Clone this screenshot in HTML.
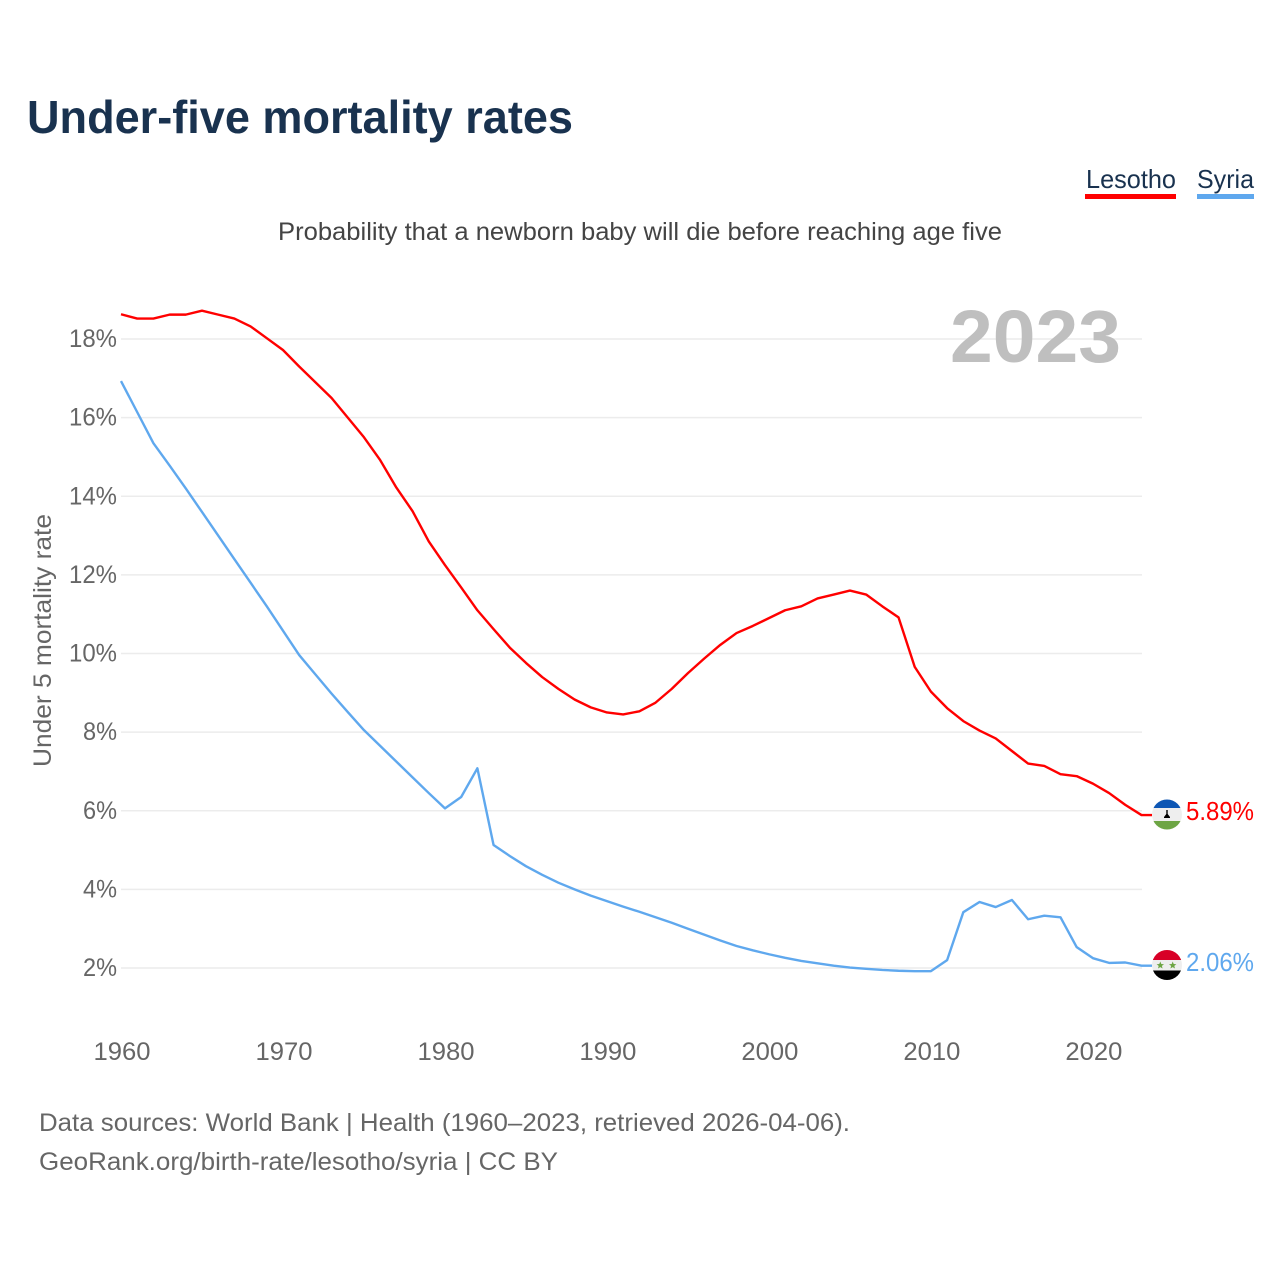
<!DOCTYPE html>
<html lang="en">
<head>
<meta charset="utf-8">
<title>Under-five mortality rates</title>
<style>
html,body{margin:0;padding:0;background:#fff;width:1280px;height:1280px;overflow:hidden}
svg{display:block}
text{font-family:"Liberation Sans",sans-serif}
</style>
</head>
<body>
<svg id="chart" xmlns="http://www.w3.org/2000/svg" width="1280" height="1280" viewBox="0 0 1280 1280">
  <defs>
    <clipPath id="flag-clip-a"><circle cx="1167" cy="814.500" r="15"/></clipPath>
    <clipPath id="flag-clip-b"><circle cx="1167" cy="965" r="15"/></clipPath>
  </defs>
  <text x="27" y="133" font-size="46" font-weight="700" fill="#19324f" textLength="546" lengthAdjust="spacingAndGlyphs">Under-five mortality rates</text>
  <g id="grid"></g>
  <text x="950" y="362" font-size="74" font-weight="700" fill="#bfbfbf" textLength="171" lengthAdjust="spacingAndGlyphs">2023</text>
  <g id="y-ticks"></g>
  <g id="x-ticks"></g>
  <text transform="translate(51,767) rotate(-90)" font-size="25" fill="#666" textLength="253" lengthAdjust="spacingAndGlyphs">Under 5 mortality rate</text>
  <text x="278" y="240" font-size="25" fill="#444" textLength="724" lengthAdjust="spacingAndGlyphs">Probability that a newborn baby will die before reaching age five</text>

  <g>
    <text x="1086" y="188" font-size="26" fill="#19324f" textLength="90" lengthAdjust="spacingAndGlyphs">Lesotho</text>
    <rect x="1085" y="194" width="91" height="5" fill="#ff0000"/>
  </g>
  <g>
    <text x="1197" y="188" font-size="26" fill="#19324f" textLength="57" lengthAdjust="spacingAndGlyphs">Syria</text>
    <rect x="1197" y="194" width="57" height="5" fill="#5fa8ee"/>
  </g>

  <g id="series"></g>

  <g clip-path="url(#flag-clip-a)">
    <rect x="1152" y="799" width="30" height="31" fill="#eeeeee"/>
    <rect x="1152" y="799" width="30" height="9" fill="#0d56b4"/>
    <rect x="1152" y="821" width="30" height="9" fill="#6da544"/>
    <path d="M1166.300 810h1.400v4l2.300 3v1h-6v-1l2.300-3z" fill="#000"/>
  </g>
  <g clip-path="url(#flag-clip-b)">
    <rect x="1152" y="950" width="30" height="30" fill="#eeeeee"/>
    <rect x="1152" y="950" width="30" height="10" fill="#d80027"/>
    <rect x="1152" y="970.500" width="30" height="10" fill="#000"/>
    <polygon points="1160.300,961.500 1161.300,964 1164,964.200 1161.900,965.900 1162.600,968.500 1160.300,967.100 1158,968.500 1158.700,965.900 1156.600,964.200 1159.300,964" fill="#6da544"/>
    <polygon points="1172.700,961.500 1173.700,964 1176.400,964.200 1174.300,965.900 1175,968.500 1172.700,967.100 1170.400,968.500 1171.100,965.900 1169,964.200 1171.700,964" fill="#6da544"/>
  </g>
  <text x="1186" y="820" font-size="25.500" fill="#ff0000" textLength="68" lengthAdjust="spacingAndGlyphs">5.89%</text>
  <text x="1186" y="971" font-size="25.500" fill="#5fa8ee" textLength="68" lengthAdjust="spacingAndGlyphs">2.06%</text>

  <text x="39" y="1131" font-size="25" fill="#666" textLength="811" lengthAdjust="spacingAndGlyphs">Data sources: World Bank | Health (1960–2023, retrieved 2026-04-06).</text>
  <text x="39" y="1170" font-size="25" fill="#666" textLength="519" lengthAdjust="spacingAndGlyphs">GeoRank.org/birth-rate/lesotho/syria | CC BY</text>
</svg>
<script>
const startYear = 1960;
const lesothoValues = [18.63,18.52,18.52,18.62,18.62,18.72,18.62,18.52,18.32,18.02,17.72,17.3,16.9,16.5,16.0,15.5,14.92,14.22,13.62,12.85,12.25,11.68,11.1,10.62,10.15,9.76,9.4,9.1,8.83,8.63,8.5,8.45,8.53,8.75,9.1,9.5,9.87,10.22,10.52,10.7,10.9,11.1,11.2,11.4,11.5,11.6,11.5,11.2,10.92,9.66,9.03,8.61,8.28,8.04,7.84,7.52,7.2,7.14,6.93,6.88,6.69,6.45,6.15,5.89];
const syriaValues = [16.93,16.14,15.35,14.78,14.2,13.6,13.0,12.4,11.8,11.2,10.58,9.96,9.47,8.98,8.51,8.05,7.65,7.25,6.85,6.45,6.06,6.35,7.08,5.13,4.85,4.59,4.37,4.17,4.0,3.84,3.7,3.56,3.43,3.29,3.15,3.0,2.85,2.7,2.56,2.45,2.35,2.26,2.18,2.12,2.06,2.01,1.98,1.95,1.93,1.92,1.92,2.2,3.42,3.68,3.55,3.73,3.24,3.33,3.29,2.53,2.25,2.13,2.14,2.06];
const yTickValues = [2,4,6,8,10,12,14,16,18];
const xTickValues = [1960,1970,1980,1990,2000,2010,2020];

const NS = 'http://www.w3.org/2000/svg';
const xScale = year => 121 + (year - 1960) * (1141.5 - 121) / 63;
const yScale = v => 968 - (v - 2) * (968 - 339) / 16;

const grid = document.getElementById('grid');
const yTicks = document.getElementById('y-ticks');
const xTicks = document.getElementById('x-ticks');
const seriesGroup = document.getElementById('series');

yTickValues.forEach(v => {
  const line = document.createElementNS(NS, 'line');
  
  
  line.setAttribute('x1', 121);
  line.setAttribute('x2', 1142);
  line.setAttribute('y1', yScale(v));
  line.setAttribute('y2', yScale(v));
  line.setAttribute('stroke', '#ececec');
  line.setAttribute('stroke-width', 1.5);
  grid.appendChild(line);

  const label = document.createElementNS(NS, 'text');
  
  
  const str = v + '%';
  label.textContent = str;
  const w = str.length > 2 ? 48 : 34;
  label.setAttribute('x', 117 - w);
  label.setAttribute('y', yScale(v) + 8);
  label.setAttribute('font-size', 25);
  label.setAttribute('fill', '#666');
  label.setAttribute('textLength', w);
  label.setAttribute('lengthAdjust', 'spacingAndGlyphs');
  yTicks.appendChild(label);
});

xTickValues.forEach(y => {
  const label = document.createElementNS(NS, 'text');
  
  
  label.textContent = String(y);
  label.setAttribute('x', xScale(y) - 27.5);
  label.setAttribute('y', 1060);
  label.setAttribute('font-size', 25);
  label.setAttribute('fill', '#666');
  label.setAttribute('textLength', 57);
  label.setAttribute('lengthAdjust', 'spacingAndGlyphs');
  xTicks.appendChild(label);
});

function drawSeries(values, color, endX) {
  const pts = values.map((v, i) => xScale(startYear + i).toFixed(2) + ',' + yScale(v).toFixed(2));
  const last = yScale(values[values.length - 1]).toFixed(2);
  pts.push(endX + ',' + last);
  const line = document.createElementNS(NS, 'polyline');
  
  
  line.setAttribute('points', pts.join(' '));
  line.setAttribute('fill', 'none');
  line.setAttribute('stroke', color);
  line.setAttribute('stroke-width', 2.4);
  line.setAttribute('stroke-linejoin', 'round');
  seriesGroup.appendChild(line);
}
drawSeries(lesothoValues, '#ff0000', 1152);
drawSeries(syriaValues, '#5fa8ee', 1152);
</script>
</body>
</html>
